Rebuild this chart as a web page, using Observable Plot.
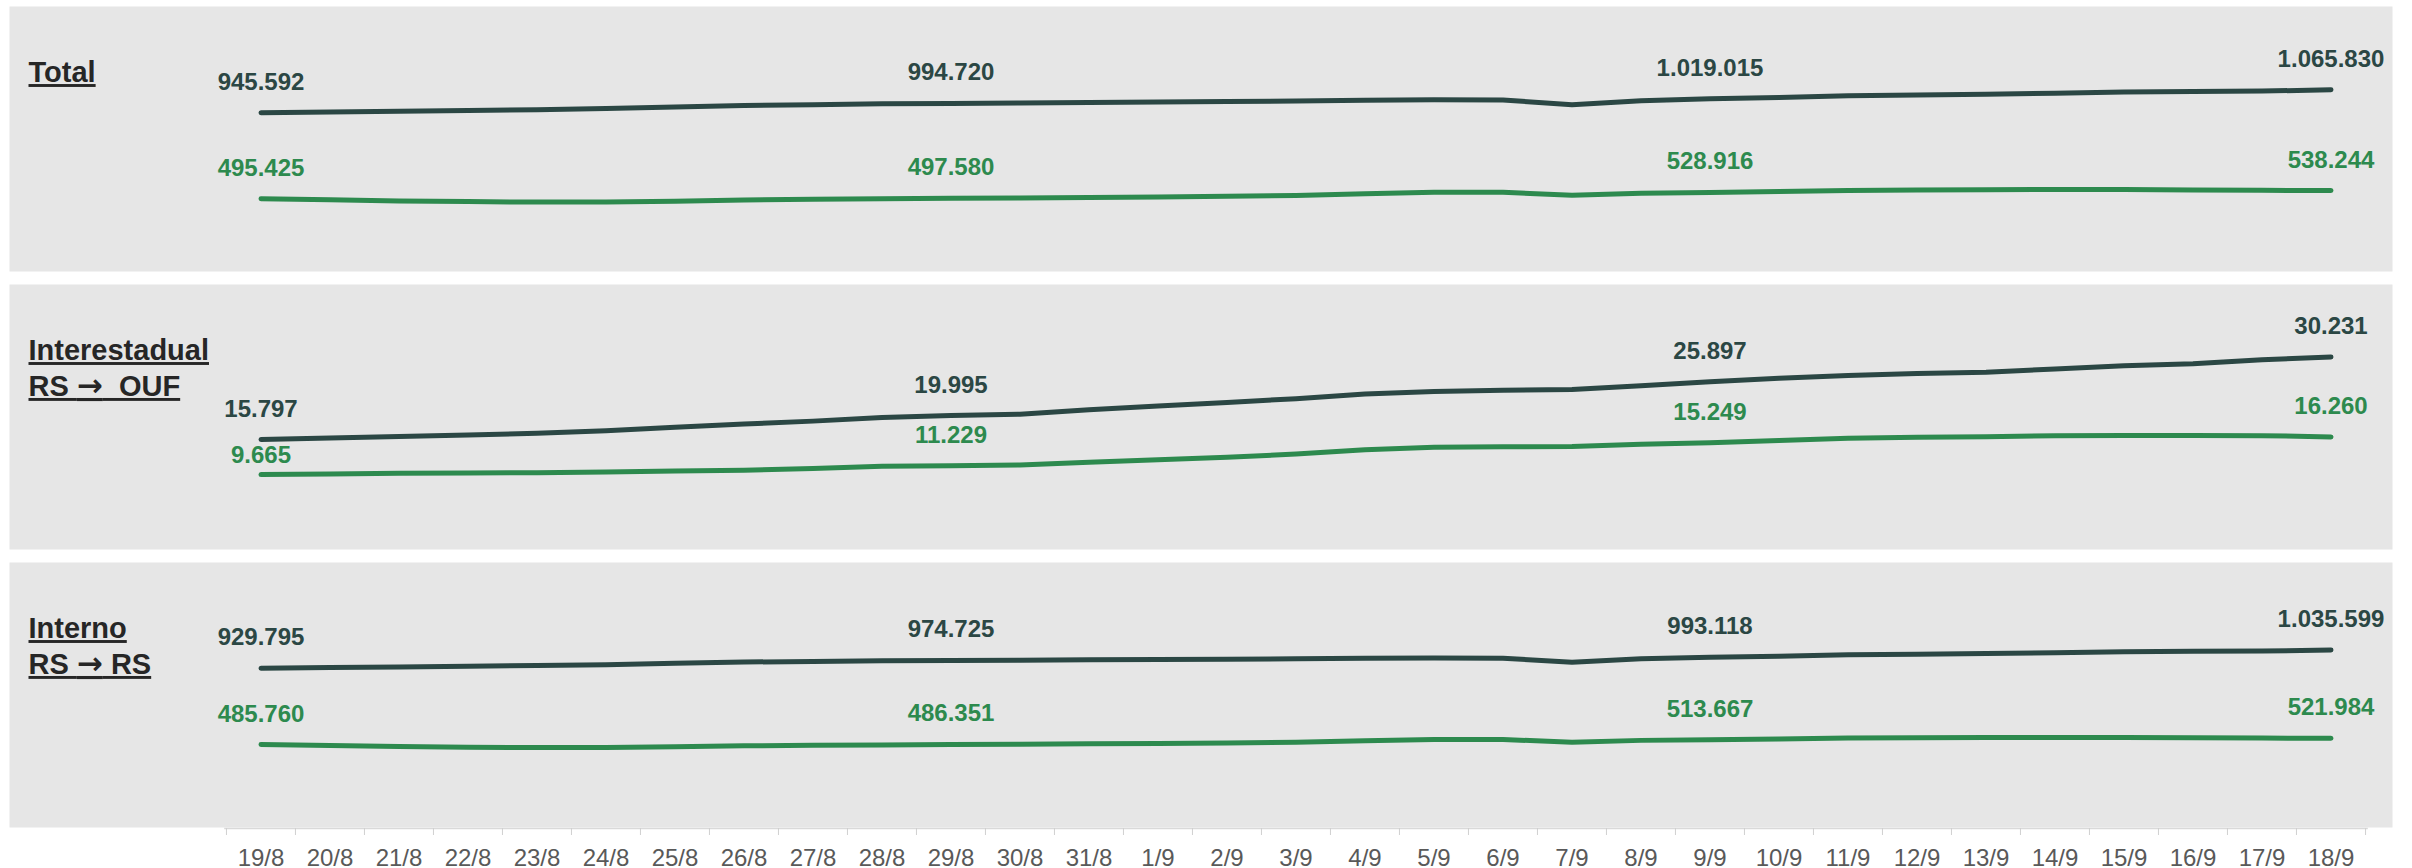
<!DOCTYPE html>
<html>
<head>
<meta charset="utf-8">
<script src="https://cdn.jsdelivr.net/npm/d3@7"></script>
<script src="https://cdn.jsdelivr.net/npm/@observablehq/plot@0.6"></script>
<style>
  html, body { margin: 0; padding: 0; background: #ffffff; }
  #chart { position: relative; width: 2412px; height: 868px; font-family: "Liberation Sans", Arial, sans-serif; }
  #chart svg { position: absolute; left: 0; top: 0; }
  g[aria-description="panel-title"] text { text-decoration: underline; text-decoration-thickness: 3px; text-underline-offset: 3px; }
</style>
</head>
<body>
<div id="chart"></div>
<script>
// ---------- DATA ----------
const dates = ["19/8","20/8","21/8","22/8","23/8","24/8","25/8","26/8","27/8","28/8","29/8","30/8","31/8",
  "1/9","2/9","3/9","4/9","5/9","6/9","7/9","8/9","9/9","10/9","11/9","12/9","13/9","14/9","15/9","16/9","17/9","18/9"];

const labelDates = ["19/8", "29/8", "9/9", "18/9"];

const titles = ["Total", "Interestadual\nRS →\u00a0\u00a0OUF", "Interno\nRS → RS"];

const totalDark = [945592, 949585, 953615, 957602, 961690, 967750, 975825, 983900, 988117, 992550, 994720,
  996822, 999417, 1001841, 1004365, 1006846, 1011340, 1013594, 1012021, 988235, 1009116, 1019015,
  1025716, 1034311, 1038621, 1042968, 1047525, 1054182, 1056554, 1059235, 1065830];
const totalGreen = [495425, 489837, 484249, 480505, 478200, 479112, 482740, 488608, 492687, 494978, 497580,
  499516, 501802, 504088, 508147, 512370, 522228, 529936, 529553, 513660, 524987, 528916,
  533128, 539207, 541297, 543090, 543850, 543620, 541615, 539680, 538244];

const interDark = [15797, 16085, 16315, 16602, 16890, 17350, 17925, 18500, 19017, 19650, 19995,
  20222, 21017, 21641, 22265, 22946, 23740, 24194, 24421, 24535, 25216, 25897,
  26516, 27011, 27321, 27568, 28125, 28682, 29054, 29735, 30231];
const interGreen = [9665, 9777, 9889, 9945, 10000, 10112, 10280, 10448, 10727, 11118, 11229,
  11346, 11812, 12278, 12687, 13270, 14028, 14436, 14553, 14560, 14957, 15249,
  15628, 16007, 16197, 16290, 16450, 16520, 16515, 16480, 16260];

const internoDark = [929795, 933500, 937300, 941000, 944800, 950400, 957900, 965400, 969100, 972900, 974725,
  976600, 978400, 980200, 982100, 983900, 987600, 989400, 987600, 963700, 983900, 993118,
  999200, 1007300, 1011300, 1015400, 1019400, 1025500, 1027500, 1029500, 1035599];
const internoGreen = [485760, 480060, 474360, 470560, 468200, 469000, 472460, 478160, 481960, 483860, 486351,
  488170, 489990, 491810, 495460, 499100, 508200, 515500, 515000, 499100, 510030, 513667,
  517500, 523200, 525100, 526800, 527400, 527100, 525100, 523200, 521984];

// ---------- LAYOUT / STYLE ----------
const W = 2412, H = 868;
const FONT = "'Liberation Sans', Arial, sans-serif";
const DARK = "#2b4744", GREEN = "#2d8a4e", PANEL_BG = "#e6e6e6", TITLE = "#262626", AXIS_TEXT = "#595959", TICK = "#d0d0d0";
const X_RANGE = [224.45, 2366.55];
const AXIS_Y = 828;
const halfStep = (X_RANGE[1] - X_RANGE[0]) / dates.length / 2;

const panels = [
  {title: titles[0], dark: totalDark, green: totalGreen, top: 6, bottom: 271, domain: [400000, 1100000], range: [216.5, 82.8], greenFirstDy: -23},
  {title: titles[1], dark: interDark, green: interGreen, top: 284, bottom: 549, domain: [5000, 35000], range: [500.8, 329.2], greenFirstDy: -12},
  {title: titles[2], dark: internoDark, green: internoGreen, top: 562, bottom: 827, domain: [400000, 1100000], range: [758.8, 638.4], greenFirstDy: -23}
];

const fmt = d3.formatLocale({decimal: ",", thousands: ".", grouping: [3], currency: ["", ""]}).format(",d");

const chart = document.getElementById("chart");

function styleArrows(svg) {
  svg.querySelectorAll('g[aria-description="panel-title"] tspan, g[aria-description="panel-title"] text').forEach(node => {
    if (node.childNodes.length === 1 && node.firstChild.nodeType === 3 && node.textContent.includes("→")) {
      const [a, b] = node.textContent.split("→");
      node.textContent = "";
      node.append(a);
      const t = document.createElementNS("http://www.w3.org/2000/svg", "tspan");
      t.setAttribute("font-family", "DejaVu Sans");
      t.setAttribute("font-size", "31");
      t.textContent = "→";
      node.append(t, b);
    }
  });
  return svg;
}

function panelPlot(p) {
  const dark = dates.map((d, i) => ({date: d, value: p.dark[i]}));
  const green = dates.map((d, i) => ({date: d, value: p.green[i]}));
  const lab = arr => arr.filter(d => labelDates.includes(d.date));
  const gl = lab(green);
  const textOpts = {x: "date", y: "value", text: d => fmt(d.value), lineAnchor: "bottom", fontSize: 24, fontWeight: "bold", textAnchor: "middle"};
  return Plot.plot({
    width: W, height: H,
    marginLeft: 9, marginRight: 20, marginTop: p.top, marginBottom: H - p.bottom,
    style: {background: "transparent", fontFamily: FONT, overflow: "visible"},
    x: {type: "band", domain: dates, range: X_RANGE, padding: 0, axis: null},
    y: {domain: p.domain, range: p.range, axis: null},
    marks: [
      Plot.frame({fill: PANEL_BG, stroke: "none"}),
      Plot.line(dark, {x: "date", y: "value", stroke: DARK, strokeWidth: 5, strokeLinecap: "round", strokeLinejoin: "round"}),
      Plot.line(green, {x: "date", y: "value", stroke: GREEN, strokeWidth: 5, strokeLinecap: "round", strokeLinejoin: "round"}),
      Plot.text(lab(dark), {...textOpts, dy: -23, fill: DARK}),
      Plot.text(gl.slice(0, 1), {...textOpts, dy: p.greenFirstDy, fill: GREEN}),
      Plot.text(gl.slice(1), {...textOpts, dy: -23, fill: GREEN}),
      Plot.text([p.title], {text: d => d, frameAnchor: "top-left", textAnchor: "start", lineAnchor: "top", lineHeight: 1.24,
        dx: 19, dy: 50, fontSize: 29, fontWeight: "bold", fill: TITLE, ariaDescription: "panel-title"})
    ]
  });
}

panels.forEach(p => chart.appendChild(styleArrows(panelPlot(p))));

const axisPlot = Plot.plot({
  width: W, height: H,
  marginLeft: X_RANGE[0], marginRight: W - X_RANGE[1], marginTop: 0, marginBottom: H - AXIS_Y,
  style: {background: "transparent", fontFamily: FONT, overflow: "visible"},
  x: {type: "band", domain: dates, padding: 0},
  marks: [
    Plot.frame({anchor: "bottom", stroke: "#d9d9d9", strokeWidth: 1.5}),
    Plot.axisX({tickSize: 0, tickPadding: 20, fontSize: 24, fill: AXIS_TEXT, label: null}),
    Plot.axisX({text: null, tickSize: 7, dx: -halfStep, stroke: TICK, label: null}),
    Plot.axisX({ticks: [dates[dates.length - 1]], text: null, tickSize: 7, dx: halfStep, stroke: TICK, label: null})
  ]
});
chart.appendChild(axisPlot);
</script>
</body>
</html>
